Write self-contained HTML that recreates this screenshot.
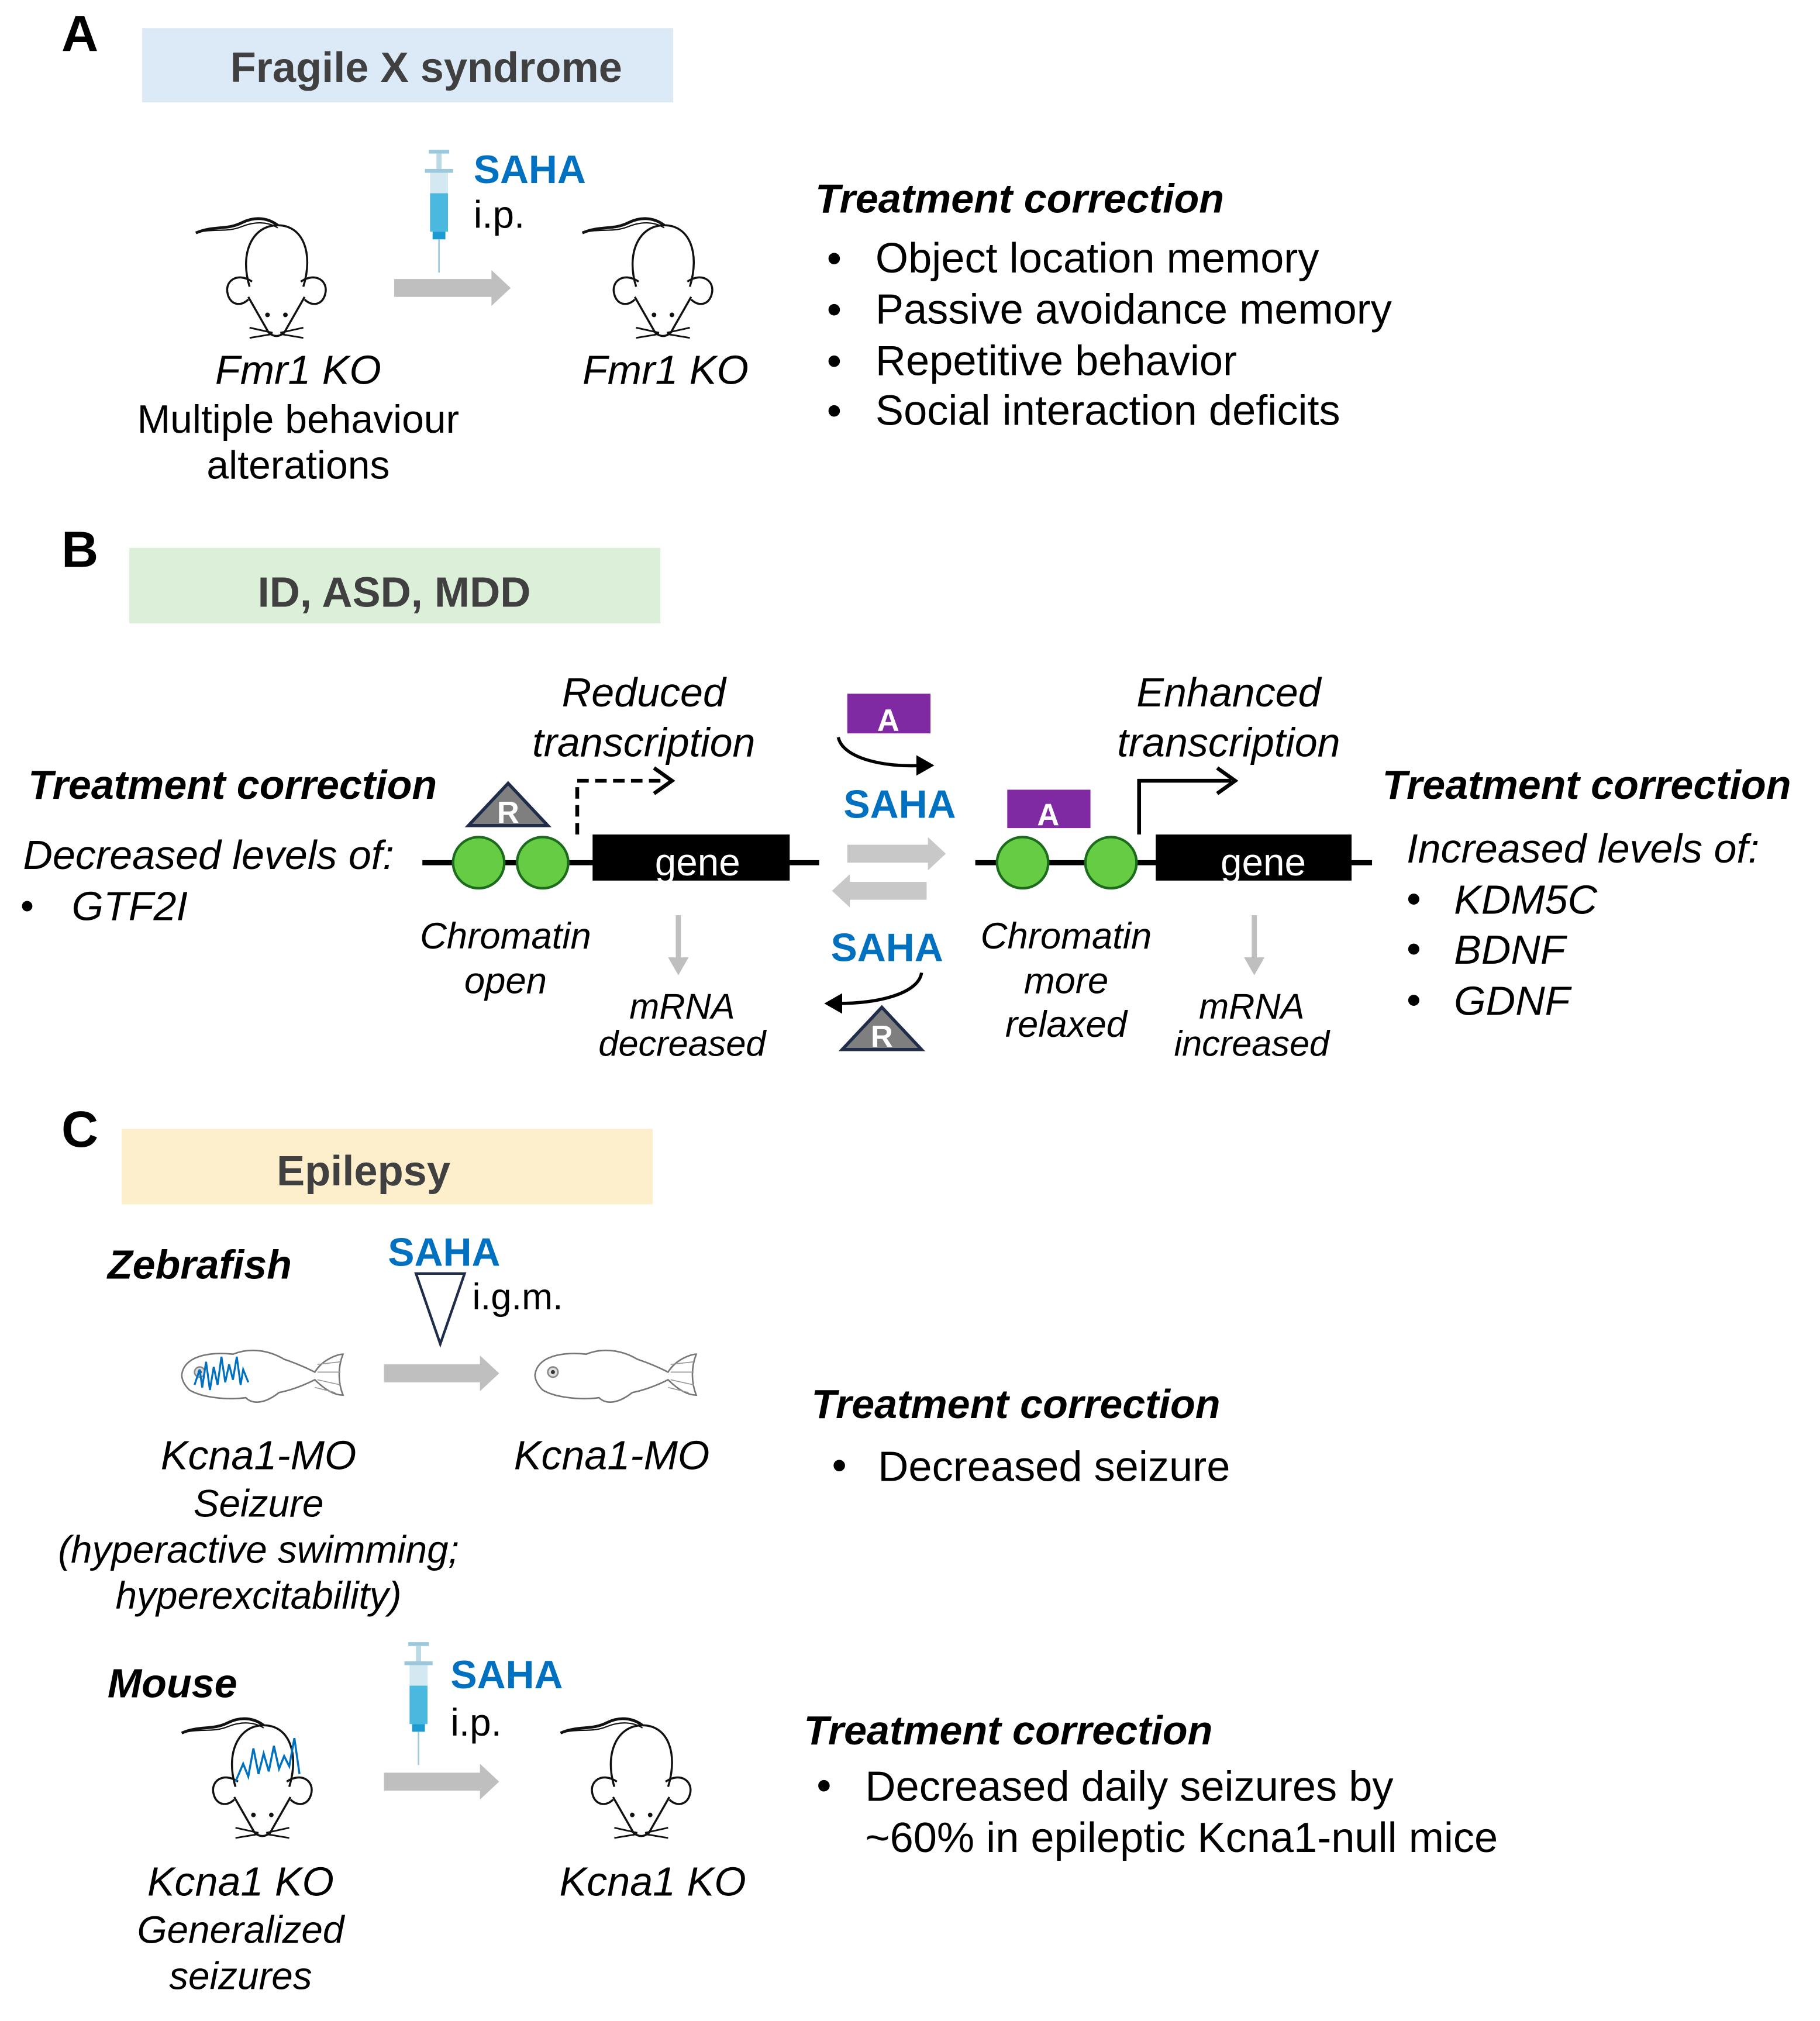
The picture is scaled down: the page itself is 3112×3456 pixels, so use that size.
<!DOCTYPE html>
<html><head><meta charset="utf-8">
<style>
html,body{margin:0;padding:0;background:#fff;}
svg{display:block;}
text{font-family:"Liberation Sans",Arial,sans-serif;}
.b{font-weight:bold;}
.i{font-style:italic;}
.s{fill:#0070c0;font-weight:bold;}
</style></head>
<body>
<svg width="3112" height="3456" viewBox="0 0 1422 1579" preserveAspectRatio="none" xmlns="http://www.w3.org/2000/svg">
<defs>
  <g id="mouse" fill="none" stroke="#111" stroke-width="1.6">
    <path d="M-62,14 C-48,8 -38,12 -26,6 C-16,1 -6,2 2,8" stroke-width="2.2"/>
    <path d="M-62,14 C-48,10 -38,14 -26,9 C-16,5 -6,5 2,10" stroke-width="1"/>
    <path d="M-20,56 C-28,30 -18,8 2,8 C22,8 30,30 22,56"/>
    <path d="M-18,52 C-30,44 -40,52 -37,62 C-35,70 -27,72 -21,66"/>
    <path d="M20,52 C32,44 42,52 39,62 C37,70 29,72 23,66"/>
    <path d="M-21,64 L-5,92 Q1,97 7,92 L23,64"/>
    <circle cx="-6" cy="78" r="1.8" fill="#111" stroke="none"/>
    <circle cx="8" cy="78" r="1.8" fill="#111" stroke="none"/>
    <path d="M-20,88 L-2,92 M-20,96 L-2,93 M22,88 L4,92 M22,96 L4,93" stroke-width="1.3"/>
  </g>
  <g id="syringe">
    <rect x="-8" y="0" width="16" height="3" fill="#9cc8dd"/>
    <rect x="-2" y="3" width="4" height="12" fill="#bcd9e6"/>
    <rect x="-11" y="15" width="22" height="3" fill="#9cc8dd"/>
    <rect x="-7" y="18" width="14" height="16" fill="#d4e8f1"/>
    <rect x="-7" y="34" width="14" height="30" fill="#4bb8e0"/>
    <rect x="-5" y="64" width="10" height="6" fill="#1c9ad2"/>
    <line x1="0" y1="70" x2="0" y2="96" stroke="#9cc8dd" stroke-width="1.2"/>
  </g>
  <g id="fish" fill="#fff" stroke="#777" stroke-width="1.2">
    <path d="M0,22 C2,8 20,4 40,6 C55,0 70,4 80,10 C92,14 100,18 104,20 C110,10 122,6 126,6 C122,16 122,28 126,38 C118,38 110,32 104,26 C96,30 86,34 76,36 C66,44 56,46 50,40 C36,42 16,40 6,34 C2,30 0,26 0,22 Z"/>
    <path d="M106,14 L124,12 M106,20 L124,20 M106,26 L124,30 M104,32 L120,36" stroke="#999" stroke-width="0.8"/>
    <circle cx="14" cy="20" r="4" fill="#ddd" stroke="#888"/>
    <circle cx="14" cy="20" r="1.6" fill="#333" stroke="none"/>
  </g>
  <g id="rtri">
    <path d="M0,0 L31,33 L-31,33 Z" fill="#7f7f7f" stroke="#1f2d4a" stroke-width="2.5"/>
    <text x="0" y="31" text-anchor="middle" font-size="24" fill="#fff" class="b">R</text>
  </g>
</defs>

<!-- ========== A ========== -->
<text x="48" y="40" font-size="40" class="b">A</text>
<rect x="111" y="22" width="415" height="58" fill="#dbeaf6"/>
<text x="333" y="64" text-anchor="middle" font-size="33" class="b" fill="#404040">Fragile X syndrome</text>
<use href="#syringe" x="343" y="117"/>
<text x="370" y="143" font-size="31" class="s">SAHA</text>
<text x="370" y="178" font-size="30">i.p.</text>
<use href="#mouse" x="215" y="168"/>
<path d="M308,218 H384 V211 L399,225 L384,239 V232 H308 Z" fill="#bfbfbf"/>
<use href="#mouse" x="517" y="168"/>
<text x="233" y="300" text-anchor="middle" font-size="32" class="i">Fmr1 KO</text>
<text x="233" y="338" text-anchor="middle" font-size="31">Multiple behaviour</text>
<text x="233" y="374" text-anchor="middle" font-size="31">alterations</text>
<text x="520" y="300" text-anchor="middle" font-size="32" class="i">Fmr1 KO</text>
<text x="637" y="166" font-size="32" class="b i">Treatment correction</text>
<g font-size="33">
<text x="646" y="213">•</text><text x="684" y="213">Object location memory</text>
<text x="646" y="253">•</text><text x="684" y="253">Passive avoidance memory</text>
<text x="646" y="293">•</text><text x="684" y="293">Repetitive behavior</text>
<text x="646" y="332">•</text><text x="684" y="332">Social interaction deficits</text>
</g>

<!-- ========== B ========== -->
<text x="48" y="443" font-size="40" class="b">B</text>
<rect x="101" y="428" width="415" height="59" fill="#dcefd9"/>
<text x="308" y="474" text-anchor="middle" font-size="33" class="b" fill="#404040">ID, ASD, MDD</text>

<text x="503" y="552" text-anchor="middle" font-size="32" class="i">Reduced</text>
<text x="503" y="591" text-anchor="middle" font-size="32" class="i">transcription</text>
<text x="22" y="624" font-size="32" class="b i">Treatment correction</text>
<text x="18" y="679" font-size="32" class="i">Decreased levels of:</text>
<text x="16" y="718" font-size="30">•</text>
<text x="56" y="719" font-size="32" class="i">GTF2I</text>

<line x1="330" y1="674" x2="640" y2="674" stroke="#000" stroke-width="4"/>
<circle cx="374" cy="674" r="20" fill="#66cc44" stroke="#1d6b1d" stroke-width="2"/>
<circle cx="424" cy="674" r="20" fill="#66cc44" stroke="#1d6b1d" stroke-width="2"/>
<rect x="463" y="652" width="154" height="36" fill="#000"/>
<text x="545" y="684" text-anchor="middle" font-size="30" fill="#fff">gene</text>
<use href="#rtri" x="397" y="612"/>
<path d="M451,652 V610 H520" fill="none" stroke="#000" stroke-width="3" stroke-dasharray="9,5"/>
<path d="M511,600 L525,610 L511,620" fill="none" stroke="#000" stroke-width="3"/>
<path d="M528,715 V748 H522 L530,762 L538,748 H532 V715 Z" fill="#bfbfbf"/>
<text x="395" y="741" text-anchor="middle" font-size="29" class="i">Chromatin</text>
<text x="395" y="776" text-anchor="middle" font-size="29" class="i">open</text>
<text x="533" y="796" text-anchor="middle" font-size="28" class="i">mRNA</text>
<text x="533" y="825" text-anchor="middle" font-size="28" class="i">decreased</text>

<!-- middle -->
<rect x="662" y="542" width="65" height="31" fill="#7f2aa2"/>
<text x="694" y="571" text-anchor="middle" font-size="24" fill="#fff" class="b">A</text>
<path d="M655,576 C658,592 690,600 722,598" fill="none" stroke="#000" stroke-width="2.5"/>
<path d="M716,590 L730,598 L716,606 Z" fill="#000"/>
<text x="703" y="639" text-anchor="middle" font-size="31" class="s">SAHA</text>
<path d="M662,660 H725 V654 L739,667 L725,680 V674 H662 Z" fill="#c8c8c8"/>
<path d="M724,689 H664 V683 L650,696 L664,709 V703 H724 Z" fill="#c8c8c8"/>
<text x="693" y="751" text-anchor="middle" font-size="31" class="s">SAHA</text>
<path d="M720,760 C718,775 690,784 654,784" fill="none" stroke="#000" stroke-width="2.5"/>
<path d="M658,776 L644,784 L658,792 Z" fill="#000"/>
<use href="#rtri" x="689" y="787"/>

<!-- right -->
<text x="960" y="552" text-anchor="middle" font-size="32" class="i">Enhanced</text>
<text x="960" y="591" text-anchor="middle" font-size="32" class="i">transcription</text>
<line x1="762" y1="674" x2="1072" y2="674" stroke="#000" stroke-width="4"/>
<circle cx="799" cy="674" r="20" fill="#66cc44" stroke="#1d6b1d" stroke-width="2"/>
<circle cx="868" cy="674" r="20" fill="#66cc44" stroke="#1d6b1d" stroke-width="2"/>
<rect x="787" y="617" width="65" height="30" fill="#7f2aa2"/>
<text x="819" y="645" text-anchor="middle" font-size="24" fill="#fff" class="b">A</text>
<rect x="903" y="652" width="153" height="36" fill="#000"/>
<text x="987" y="684" text-anchor="middle" font-size="30" fill="#fff">gene</text>
<path d="M890,652 V610 H962" fill="none" stroke="#000" stroke-width="3"/>
<path d="M951,600 L965,610 L951,620" fill="none" stroke="#000" stroke-width="3"/>
<path d="M978,715 V748 H972 L980,762 L988,748 H982 V715 Z" fill="#bfbfbf"/>
<text x="833" y="741" text-anchor="middle" font-size="29" class="i">Chromatin</text>
<text x="833" y="776" text-anchor="middle" font-size="29" class="i">more</text>
<text x="833" y="810" text-anchor="middle" font-size="29" class="i">relaxed</text>
<text x="978" y="796" text-anchor="middle" font-size="28" class="i">mRNA</text>
<text x="978" y="825" text-anchor="middle" font-size="28" class="i">increased</text>
<text x="1080" y="624" font-size="32" class="b i">Treatment correction</text>
<text x="1099" y="674" font-size="32" class="i">Increased levels of:</text>
<g font-size="32">
<text x="1099" y="713">•</text><text x="1136" y="714" class="i">KDM5C</text>
<text x="1099" y="752">•</text><text x="1136" y="753" class="i">BDNF</text>
<text x="1099" y="792">•</text><text x="1136" y="793" class="i">GDNF</text>
</g>

<!-- ========== C ========== -->
<text x="48" y="896" font-size="40" class="b">C</text>
<rect x="95" y="882" width="415" height="59" fill="#fdefcb"/>
<text x="284" y="926" text-anchor="middle" font-size="33" class="b" fill="#404040">Epilepsy</text>

<text x="84" y="999" font-size="32" class="b i">Zebrafish</text>
<text x="347" y="989" text-anchor="middle" font-size="31" class="s">SAHA</text>
<path d="M325,995 L363,995 L344,1050 Z" fill="#fff" stroke="#1f2d4a" stroke-width="2"/>
<text x="369" y="1023" font-size="29">i.g.m.</text>
<use href="#fish" x="142" y="1052"/>
<path d="M152,1082 L156,1070 L158,1084 L161,1064 L164,1086 L167,1068 L170,1082 L173,1060 L176,1080 L179,1066 L182,1078 L185,1060 L188,1082 L190,1070 L194,1080" fill="none" stroke="#0070c0" stroke-width="1.5"/>
<path d="M300,1066 H375 V1059 L390,1073 L375,1087 V1080 H300 Z" fill="#bfbfbf"/>
<use href="#fish" x="418" y="1052"/>
<text x="202" y="1148" text-anchor="middle" font-size="32" class="i">Kcna1-MO</text>
<text x="202" y="1185" text-anchor="middle" font-size="30" class="i">Seizure</text>
<text x="202" y="1221" text-anchor="middle" font-size="30" class="i">(hyperactive swimming;</text>
<text x="202" y="1257" text-anchor="middle" font-size="30" class="i">hyperexcitability)</text>
<text x="478" y="1148" text-anchor="middle" font-size="32" class="i">Kcna1-MO</text>
<text x="634" y="1108" font-size="32" class="b i">Treatment correction</text>
<text x="650" y="1156" font-size="33">•</text>
<text x="686" y="1157" font-size="33">Decreased seizure</text>

<text x="84" y="1326" font-size="32" class="b i">Mouse</text>
<use href="#syringe" x="327" y="1283"/>
<text x="352" y="1319" font-size="31" class="s">SAHA</text>
<text x="352" y="1356" font-size="30">i.p.</text>
<use href="#mouse" x="204" y="1340"/>
<path d="M184,1392 L190,1378 L194,1388 L198,1366 L202,1386 L206,1370 L210,1384 L214,1364 L218,1382 L222,1372 L226,1380 L230,1358 L234,1386" fill="none" stroke="#0070c0" stroke-width="1.6"/>
<path d="M300,1385 H375 V1378 L390,1392 L375,1406 V1399 H300 Z" fill="#bfbfbf"/>
<use href="#mouse" x="500" y="1340"/>
<text x="188" y="1481" text-anchor="middle" font-size="32" class="i">Kcna1 KO</text>
<text x="188" y="1518" text-anchor="middle" font-size="30" class="i">Generalized</text>
<text x="188" y="1554" text-anchor="middle" font-size="30" class="i">seizures</text>
<text x="510" y="1481" text-anchor="middle" font-size="32" class="i">Kcna1 KO</text>
<text x="628" y="1363" font-size="32" class="b i">Treatment correction</text>
<text x="638" y="1406" font-size="33">•</text>
<text x="676" y="1407" font-size="33">Decreased daily seizures by</text>
<text x="676" y="1447" font-size="33">~60% in epileptic Kcna1-null mice</text>
</svg>
</body></html>
